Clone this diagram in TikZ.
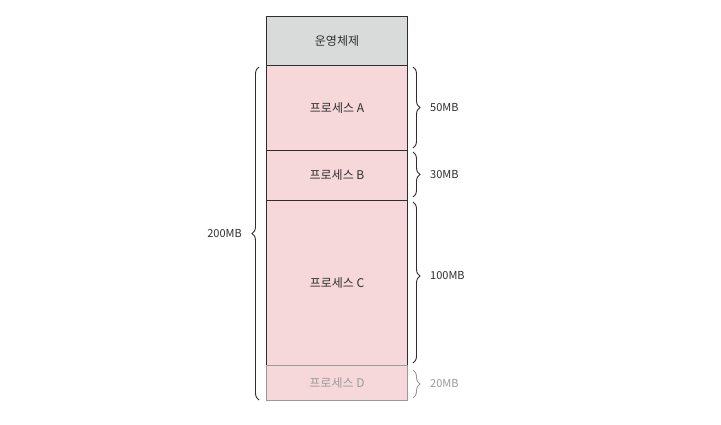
\documentclass[tikz,border=0pt]{standalone}
\usepackage{fontspec}
\setmainfont{Noto Sans CJK KR}
\usetikzlibrary{decorations.pathreplacing}
\definecolor{osgray}{HTML}{D9DADA}
\definecolor{procpink}{HTML}{F7D8DA}
\definecolor{inkc}{HTML}{2E2E2E}
\definecolor{fadec}{HTML}{9A9A9A}
\begin{document}
\begin{tikzpicture}[x=1pt,y=-1pt,
  box/.style={draw=inkc,line width=0.9pt,minimum width=141pt,inner sep=0pt,anchor=north,font=\fontsize{12}{14}\selectfont,text=inkc},
  osbox/.style={box,fill=osgray},
  pbox/.style={box,fill=procpink},
  brc/.style={draw=inkc,line width=0.9pt,decorate,decoration={brace,amplitude=7pt}},
  lbl/.style={font=\fontsize{11}{13}\selectfont,text=inkc,inner sep=1pt}]
\useasboundingbox (0,0) rectangle (721,424);
\node[osbox,minimum height=49.5pt] (os) at (337,15.5) {운영체제};
\node[pbox,minimum height=84.5pt] (pa) at (337,65) {프로세스 A};
\node[pbox,minimum height=50pt] (pb) at (337,149.5) {프로세스 B};
\node[pbox,minimum height=165.5pt] (pc) at (337,199.5) {프로세스 C};
\node[pbox,draw=fadec,text=fadec,minimum height=35pt] (pd) at (337,365) {프로세스 D};
% left brace
\coordinate (lb1) at (259,400);
\coordinate (lb2) at (259,67);
\draw[brc] (lb1) -- (lb2);
\node[lbl,anchor=east] (l200) at (243,233.5) {200MB};
% right braces
\coordinate (ra1) at (413,67);
\coordinate (ra2) at (413,148);
\draw[brc] (ra1) -- (ra2);
\node[lbl,anchor=west] (l50) at (429,107.5) {50MB};
\coordinate (rb1) at (413,152);
\coordinate (rb2) at (413,197);
\draw[brc] (rb1) -- (rb2);
\node[lbl,anchor=west] (l30) at (429,174.5) {30MB};
\coordinate (rc1) at (413,202);
\coordinate (rc2) at (413,363);
\draw[brc,decoration={brace,amplitude=7pt,aspect=0.46}] (rc1) -- (rc2);
\node[lbl,anchor=west] (l100) at (429,276) {100MB};
\coordinate (rd1) at (413,370);
\coordinate (rd2) at (413,398);
\draw[brc,draw=fadec] (rd1) -- (rd2);
\node[lbl,anchor=west,text=fadec] (l20) at (429,384) {20MB};
\end{tikzpicture}
\end{document}
